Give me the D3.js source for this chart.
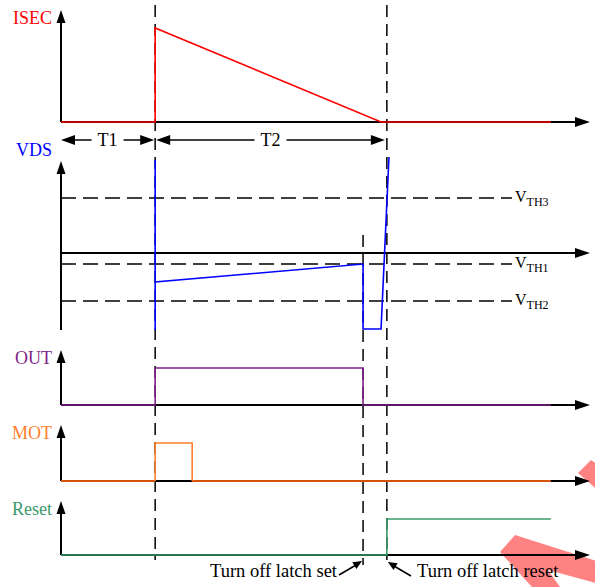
<!DOCTYPE html>
<html>
<head>
<meta charset="utf-8">
<script src="https://cdn.jsdelivr.net/npm/d3@7"></script>
<style>
    body { margin: 0; background: #fff; }
    text { font-family: "Liberation Serif", "Times New Roman", serif; }
</style>
</head>
<body>
<div id="chart"></div>
<script>
(function () {

    // Time base (arbitrary units) and signal data
    var timeDomain = [0, 100];

    var isecTime = [0, 17.8, 17.8, 60.5, 92.6];
    var isecLevel = [0, 0, 1, 0, 0];

    var vdsTime = [17.8, 17.8, 17.8, 57.1, 57.1, 60.5, 62.0];
    var vdsLevel = [9.3, -7.7, -2.9, -1.1, -7.6, -7.6, 9.6];
    var vdsDomain = [-8, 10];

    var thresholdNames = ["TH3", "TH1", "TH2"];
    var thresholdLevels = [5.5, -1.1, -4.8];

    var outTime = [0, 17.8, 17.8, 57.1, 57.1, 92.6];
    var outLevel = [0, 0, 1, 1, 0, 0];

    var motBaseTime = [[0, 17.8], [24.8, 92.6]];
    var motPulseTime = [17.8, 17.8, 24.8, 24.8];
    var motPulseLevel = [0, 1, 1, 0];

    var resetTime = [0, 61.6, 61.6, 92.6];
    var resetLevel = [0, 0, 1, 1];

    var markerTimes = [17.8, 61.6];
    var latchSetTime = 57.1;

    var intervalNames = ["T1", "T2"];
    var intervalBounds = [[0, 17.8], [17.8, 61.6]];

    // Colors
    var isecColor = "#ff0000";
    var vdsColor = "#0000ff";
    var outColor = "#7f1f8a";
    var motLabelColor = "#ff7f2a";
    var motBaseColor = "#d4550a";
    var resetColor = "#3b9a6a";

    var width = 595, height = 587;

    var svg = d3.select("#chart")
        .append("svg")
        .attr("width", width)
        .attr("height", height);

    var x = d3.scaleLinear().domain(timeDomain).range([61, 590]);

    // watermark stripes (drawn first, under everything)
    var wm = svg.append("g").attr("fill", "#ff8282");
    wm.append("path").attr("d", "M500,552 L515,535 L600,562 L600,584 L548,570 L560,587 L532,587 Z");
    wm.append("path").attr("d", "M578,473 L591,460 L600,466 L600,492 Z");

    function arrowHead(g, tx, ty, dx, dy, len, half) {
        var n = Math.sqrt(dx * dx + dy * dy);
        var ux = dx / n, uy = dy / n;
        var bx = tx - ux * len, by = ty - uy * len;
        g.append("polygon")
            .attr("points", [
                [tx, ty],
                [bx - uy * half, by + ux * half],
                [bx + uy * half, by - ux * half]
            ].map(function (p) { return p.join(","); }).join(" "))
            .attr("fill", "#000");
    }

    // Panels: baseline, top of axis, scale for the levels
    var panels = [
        {name: "ISEC", color: isecColor, base: 122, tip: 10, labelY: 24,
            y: d3.scaleLinear().domain([0, 1]).range([122, 28])},
        {name: "VDS", color: vdsColor, base: 253, tip: 161, bottom: 330, labelY: 156,
            y: d3.scaleLinear().domain(vdsDomain).range([333, 153])},
        {name: "OUT", color: outColor, base: 405, tip: 350, labelY: 364,
            y: d3.scaleLinear().domain([0, 1]).range([405, 368])},
        {name: "MOT", color: motLabelColor, base: 481, tip: 425, labelY: 439,
            y: d3.scaleLinear().domain([0, 1]).range([481, 443])},
        {name: "Reset", color: resetColor, base: 555, tip: 501, labelY: 515,
            y: d3.scaleLinear().domain([0, 1]).range([555, 519])}
    ];

    var axes = svg.append("g");
    panels.forEach(function (p) {
        // vertical axis
        axes.append("line")
            .attr("x1", x(0)).attr("x2", x(0))
            .attr("y1", p.tip + 8).attr("y2", p.bottom || p.base)
            .attr("stroke", "#000").attr("stroke-width", 2);
        arrowHead(axes, x(0), p.tip, 0, -1, 13, 4.5);
        // horizontal axis
        axes.append("line")
            .attr("x1", x(0)).attr("x2", x(timeDomain[1]) - 8)
            .attr("y1", p.base).attr("y2", p.base)
            .attr("stroke", "#000").attr("stroke-width", 2);
        arrowHead(axes, x(timeDomain[1]), p.base, 1, 0, 15, 5);
        // label
        axes.append("text")
            .attr("x", 52).attr("y", p.labelY)
            .attr("text-anchor", "end")
            .style("font-size", "18px")
            .attr("fill", p.color)
            .text(p.name);
    });

    // VDS threshold lines
    var vdsY = panels[1].y;
    var th = svg.append("g");
    thresholdLevels.forEach(function (v, i) {
        th.append("line")
            .attr("x1", x(0)).attr("x2", 512)
            .attr("y1", vdsY(v)).attr("y2", vdsY(v))
            .attr("stroke", "#000").attr("stroke-width", 1.5)
            .attr("stroke-dasharray", "15,7");
        var t = th.append("text")
            .attr("x", 515).attr("y", vdsY(v) + 4)
            .style("font-size", "16px");
        t.append("tspan").text("V");
        t.append("tspan").attr("dy", 4).style("font-size", "12px").text(thresholdNames[i]);
    });

    // vertical dashed markers
    var mk = svg.append("g")
        .attr("stroke", "#000").attr("stroke-width", 1.5)
        .attr("stroke-dasharray", "12,7");
    markerTimes.forEach(function (t) {
        mk.append("line")
            .attr("x1", x(t)).attr("x2", x(t))
            .attr("y1", 5).attr("y2", 560);
    });
    mk.append("line")
        .attr("x1", x(latchSetTime)).attr("x2", x(latchSetTime))
        .attr("y1", 235).attr("y2", 565);

    // T1 / T2 interval arrows
    var iv = svg.append("g");
    intervalNames.forEach(function (name, i) {
        var a = x(intervalBounds[i][0]) + (i ? 1 : 0);
        var b = x(intervalBounds[i][1]) - (i ? 2 : 1);
        var mid = (a + b) / 2;
        var gap = 16;
        iv.append("line").attr("x1", a + 10).attr("x2", mid - gap)
            .attr("y1", 140).attr("y2", 140).attr("stroke", "#000").attr("stroke-width", 1.5);
        iv.append("line").attr("x1", mid + gap).attr("x2", b - 10)
            .attr("y1", 140).attr("y2", 140).attr("stroke", "#000").attr("stroke-width", 1.5);
        arrowHead(iv, a, 140, -1, 0, 14, 5);
        arrowHead(iv, b, 140, 1, 0, 14, 5);
        iv.append("text")
            .attr("x", mid).attr("y", 146)
            .attr("text-anchor", "middle")
            .style("font-size", "18px")
            .text(name);
    });

    function trace(times, levels, yScale, color, w) {
        var pts = times.map(function (t, i) { return [x(t), yScale(levels[i])]; });
        svg.append("path")
            .attr("d", d3.line()(pts))
            .attr("fill", "none")
            .attr("stroke", color)
            .attr("stroke-width", w || 1.6);
    }

    trace(isecTime, isecLevel, panels[0].y, isecColor);
    trace(vdsTime, vdsLevel, panels[1].y, vdsColor);
    trace(outTime, outLevel, panels[2].y, outColor);
    motBaseTime.forEach(function (seg) {
        trace(seg, [0, 0], panels[3].y, motBaseColor, 2);
    });
    trace(motPulseTime, motPulseLevel, panels[3].y, motLabelColor);
    trace(resetTime, resetLevel, panels[4].y, resetColor);

    // annotations
    var an = svg.append("g");
    an.append("text")
        .attr("x", 337).attr("y", 577)
        .attr("text-anchor", "end")
        .style("font-size", "18.5px")
        .text("Turn off latch set");
    an.append("line")
        .attr("x1", 339).attr("y1", 575).attr("x2", 356).attr("y2", 565)
        .attr("stroke", "#000").attr("stroke-width", 1.5);
    arrowHead(an, x(latchSetTime) - 1, 561, 1, -0.6, 9, 4);

    an.append("text")
        .attr("x", 417).attr("y", 577)
        .style("font-size", "18.5px")
        .text("Turn off latch reset");
    an.append("line")
        .attr("x1", 411).attr("y1", 576).attr("x2", 394).attr("y2", 566)
        .attr("stroke", "#000").attr("stroke-width", 1.5);
    arrowHead(an, x(markerTimes[1]) + 1, 562, -1, -0.6, 9, 4);

})();
</script>
</body>
</html>
